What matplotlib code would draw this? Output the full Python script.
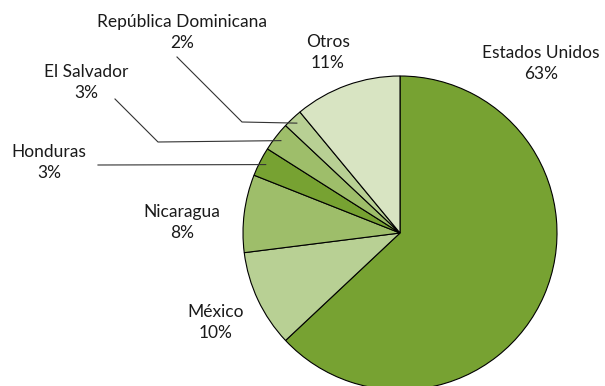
import matplotlib.pyplot as plt
import numpy as np

plt.rcParams['font.family'] = ['Lato', 'DejaVu Sans']

# Data
paises = ['Estados Unidos', 'México', 'Nicaragua', 'Honduras', 'El Salvador',
          'República Dominicana', 'Otros']
valores = [63, 10, 8, 3, 3, 2, 11]
colores = ['#77a232', '#b8d094', '#9ebe6a', '#77a232', '#9ebe6a', '#b8d094', '#d8e4c2']

# label positions in pixels (x, y of first line, top-down)
pos_lbl = {
    'Estados Unidos': (541, 53),
    'México': (216, 312),
    'Nicaragua': (182, 212),
    'Honduras': (49, 152),
    'El Salvador': (86, 72),
    'República Dominicana': (182, 22),
    'Otros': (328, 42),
}
# leader lines: (knee x, knee y, start x, start y)
leader = {
    'Honduras': (None, None, 98, 165),
    'El Salvador': (158, 142, 115, 99),
    'República Dominicana': (242, 122, 177, 57),
}

W, H = 605, 386
fig = plt.figure(figsize=(W / 100, H / 100), dpi=100)
ax = fig.add_axes([0, 0, 1, 1])

cx, cy, r = 400, H - 233, 157
wedges, _ = ax.pie(valores, colors=colores, startangle=90, counterclock=False,
                   center=(cx, cy), radius=r, frame=True,
                   wedgeprops=dict(edgecolor='black', linewidth=0.8))
ax.set_xlim(0, W)
ax.set_ylim(0, H)
ax.set_aspect('equal')
ax.axis('off')

for p, v, w in zip(paises, valores, wedges):
    x, y = pos_lbl[p]
    ax.text(x, H - y, p, ha='center', va='center', fontsize=12.5, color='#1a1a1a')
    ax.text(x, H - y - 21, f'{v}%', ha='center', va='center', fontsize=12.5, color='#1a1a1a')
    if p in leader:
        kx, ky, sx, sy = leader[p]
        ang = np.deg2rad((w.theta1 + w.theta2) / 2)
        ex = cx + 0.96 * r * np.cos(ang)
        ey = cy + 0.96 * r * np.sin(ang)
        if kx is None:
            xs, ys = [sx, ex], [H - sy, ey]
        else:
            xs, ys = [sx, kx, ex], [H - sy, H - ky, ey]
        ax.plot(xs, ys, color='#333333', linewidth=0.8)

fig.savefig('out.png', dpi=100)
